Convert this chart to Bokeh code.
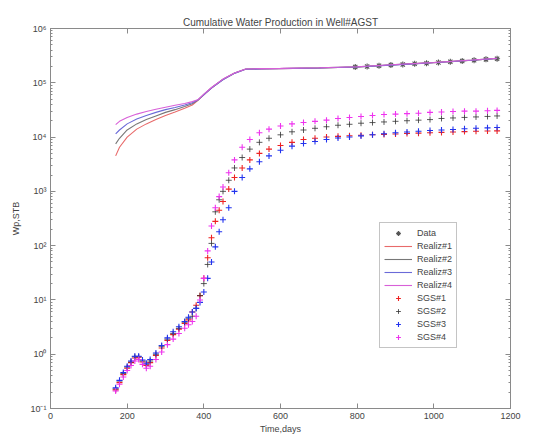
from bokeh.plotting import figure
from bokeh.models import (Range1d, LogAxis, LinearAxis, FixedTicker, Legend, LegendItem,
                          CustomJSTickFormatter)
from bokeh.embed import file_html
from bokeh.resources import INLINE

# ---------------- data ----------------
x_ticks = [0, 200, 400, 600, 800, 1000, 1200]
y_ticks = [0.1, 1, 10, 100, 1000, 1e4, 1e5, 1e6]

realiz_days = [170, 180, 200, 225, 250, 275, 300, 325, 350, 370, 384, 400, 420, 450,
               480, 509, 550, 600, 700, 800, 900, 1000, 1100, 1165]
realiz1 = [4.5e3, 6.5e3, 1.0e4, 1.4e4, 1.75e4, 2.1e4, 2.5e4, 2.9e4, 3.4e4, 3.9e4, 4.7e4,
           6.0e4, 8.0e4, 1.15e5, 1.5e5, 1.78e5, 1.8e5, 1.82e5, 1.87e5, 1.95e5, 2.15e5,
           2.35e5, 2.6e5, 2.8e5]
realiz2 = [7.5e3, 9.5e3, 1.35e4, 1.75e4, 2.1e4, 2.45e4, 2.85e4, 3.2e4, 3.65e4, 4.1e4, 4.75e4,
           6.1e4, 8.1e4, 1.16e5, 1.51e5, 1.79e5, 1.81e5, 1.83e5, 1.88e5, 1.96e5, 2.16e5,
           2.36e5, 2.62e5, 2.82e5]
realiz3 = [1.15e4, 1.35e4, 1.75e4, 2.15e4, 2.5e4, 2.85e4, 3.2e4, 3.5e4, 3.9e4, 4.3e4, 4.8e4,
           6.0e4, 8.0e4, 1.14e5, 1.49e5, 1.77e5, 1.8e5, 1.82e5, 1.87e5, 1.95e5, 2.14e5,
           2.34e5, 2.6e5, 2.8e5]
realiz4 = [1.7e4, 1.95e4, 2.3e4, 2.65e4, 2.95e4, 3.25e4, 3.55e4, 3.85e4, 4.15e4, 4.5e4, 4.85e4,
           6.2e4, 8.2e4, 1.17e5, 1.52e5, 1.8e5, 1.82e5, 1.84e5, 1.89e5, 1.97e5, 2.17e5,
           2.37e5, 2.63e5, 2.83e5]

data_days = [795, 826, 857, 888, 919, 950, 981, 1012, 1043, 1074, 1105, 1136, 1165]
data_wp = [1.95e5, 2.0e5, 2.06e5, 2.12e5, 2.18e5, 2.24e5, 2.3e5, 2.37e5, 2.45e5, 2.52e5,
           2.6e5, 2.7e5, 2.78e5]

sgs_days = [170, 180, 190, 200, 210, 220, 230, 240, 250, 260, 275, 290, 305, 320, 335, 350,
            360, 370, 380, 390, 400, 410, 420, 430, 440, 450, 465, 480, 500, 520, 545, 570,
            600, 630, 660, 690, 720, 750, 780, 810, 840, 870, 900, 930, 960, 990, 1020,
            1050, 1080, 1110, 1140, 1165]
sgs1 = [0.22, 0.3, 0.42, 0.55, 0.7, 0.85, 0.88, 0.72, 0.62, 0.7, 0.95, 1.3, 1.8, 2.3, 2.9,
        3.7, 4.3,
        6, 8, 12, 25, 60, 140, 280, 450, 650,
        1.1e3, 1.8e3, 2.7e3, 3.8e3, 5e3, 6e3, 7e3,
        8e3, 9e3, 9.5e3, 1e4, 1.03e4, 1.06e4, 1.08e4, 1.1e4, 1.12e4, 1.14e4, 1.16e4,
        1.18e4, 1.2e4, 1.22e4, 1.24e4, 1.26e4, 1.28e4, 1.29e4, 1.3e4]
sgs2 = [0.23, 0.32, 0.44, 0.58, 0.72, 0.9, 0.9, 0.75, 0.65, 0.75, 1.0, 1.4, 1.9, 2.4, 3.0,
        3.9, 4.6,
        5, 7, 12, 20, 45, 110, 420, 700, 1e3,
        1.6e3, 2.7e3, 4.2e3, 6e3, 8e3, 9.5e3, 1.1e4,
        1.25e4, 1.35e4, 1.45e4, 1.55e4, 1.65e4, 1.72e4, 1.8e4, 1.85e4, 1.9e4, 1.95e4, 2e4,
        2.05e4, 2.1e4, 2.2e4, 2.25e4, 2.3e4, 2.35e4, 2.4e4, 2.45e4]
sgs3 = [0.24, 0.33, 0.46, 0.6, 0.75, 0.92, 0.92, 0.78, 0.68, 0.8, 1.05, 1.45, 2.0, 2.6, 3.2,
        4.0, 4.8,
        6, 7, 9, 14, 25, 50, 95, 180, 300,
        500, 1e3, 1.8e3, 2.6e3, 3.5e3, 4.5e3, 5.7e3,
        6.8e3, 7.6e3, 8.3e3, 9e3, 9.6e3, 1e4, 1.05e4, 1.1e4, 1.15e4, 1.2e4, 1.24e4,
        1.28e4, 1.32e4, 1.35e4, 1.38e4, 1.42e4, 1.45e4, 1.48e4, 1.5e4]
sgs4 = [0.21, 0.28, 0.38, 0.5, 0.62, 0.75, 0.8, 0.65, 0.55, 0.6, 0.8, 1.1, 1.5, 1.9, 2.4,
        3.0, 3.5,
        4, 5, 10, 25, 80, 230, 500, 800, 1.2e3,
        2.2e3, 3.8e3, 6.5e3, 9e3, 1.2e4, 1.4e4, 1.6e4,
        1.75e4, 1.85e4, 1.95e4, 2.05e4, 2.2e4, 2.3e4, 2.4e4, 2.5e4, 2.6e4, 2.65e4, 2.7e4,
        2.75e4, 2.85e4, 2.9e4, 2.95e4, 3e4, 3e4, 3.05e4, 3.1e4]

# ---------------- styling ----------------
FONT = "Liberation Sans"
TXT = "#444444"
AX = "#8a8a8a"
RED, BLK, BLU, MAG = "#ee2222", "#333333", "#2233ee", "#ee33ee"
LRED, LBLK, LBLU, LMAG = "#e86a6a", "#777777", "#6a6ad8", "#d860d8"

p = figure(width=528, height=436, y_axis_type="log",
           x_range=Range1d(0, 1200), y_range=Range1d(0.1, 1e6),
           output_backend="svg", toolbar_location=None,
           min_border_left=50, min_border_right=18, min_border_top=28, min_border_bottom=26,
           title="Cumulative Water Production in Well#AGST")
p.title.text_font = FONT
p.title.text_font_size = "10px"
p.title.text_font_style = "normal"
p.title.text_color = TXT
p.title.align = "center"
p.title.standoff = 2
p.grid.visible = False
p.outline_line_color = AX
p.background_fill_color = "white"
p.border_fill_color = "white"

sup_code = """
const e = Math.round(Math.log10(tick));
const sup = {'-':'\u207b','0':'\u2070','1':'\u00b9','2':'\u00b2','3':'\u00b3','4':'\u2074',
             '5':'\u2075','6':'\u2076','7':'\u2077','8':'\u2078','9':'\u2079'};
return '10' + String(e).split('').map(c => sup[c]).join('');
"""
minor_y = []
for d in range(-1, 6):
    for k in range(2, 10):
        minor_y.append(k * 10.0 ** d)
y_ticker = FixedTicker(ticks=y_ticks, minor_ticks=minor_y)
x_ticker = FixedTicker(ticks=x_ticks)

def style_axis(ax, labels=True):
    ax.axis_line_color = AX
    ax.major_tick_line_color = AX
    ax.minor_tick_line_color = AX
    ax.major_tick_in = 5
    ax.major_tick_out = 0
    ax.minor_tick_in = 2
    ax.minor_tick_out = 0
    ax.major_label_text_font = FONT
    ax.major_label_text_color = TXT
    ax.major_label_text_font_size = "9px"
    ax.major_label_standoff = 3
    ax.axis_label_text_font = FONT
    ax.axis_label_text_font_size = "9px"
    ax.axis_label_text_font_style = "normal"
    ax.axis_label_text_color = TXT
    ax.axis_label_standoff = 3
    if not labels:
        ax.major_label_text_alpha = 0
        ax.major_label_standoff = 0

p.yaxis.ticker = y_ticker
p.yaxis.formatter = CustomJSTickFormatter(code=sup_code)
p.yaxis.axis_label = "Wp,STB"
p.xaxis.ticker = x_ticker
p.xaxis.axis_label = "Time,days"
style_axis(p.yaxis[0])
style_axis(p.xaxis[0])
p.yaxis[0].major_label_standoff = 4
p.yaxis[0].axis_label_standoff = 6
p.xaxis[0].major_label_standoff = 4
p.xaxis[0].axis_label_standoff = 2

ra = LogAxis(ticker=y_ticker, formatter=CustomJSTickFormatter(code="return ' ';"))
style_axis(ra, labels=False)
p.add_layout(ra, "right")
ta = LinearAxis(ticker=x_ticker, formatter=CustomJSTickFormatter(code="return ' ';"))
style_axis(ta, labels=False)
p.add_layout(ta, "above")

# ---------------- glyphs ----------------
r_data = p.scatter(data_days, data_wp, marker="asterisk", size=6, line_color="#555555",
                   line_width=1.1)
r_l1 = p.line(realiz_days, realiz1, line_color=LRED, line_width=1.1)
r_l2 = p.line(realiz_days, realiz2, line_color=LBLK, line_width=1.1)
r_l3 = p.line(realiz_days, realiz3, line_color=LBLU, line_width=1.1)
r_l4 = p.line(realiz_days, realiz4, line_color=LMAG, line_width=1.1)
r_s1 = p.scatter(sgs_days, sgs1, marker="cross", size=6, line_color=RED, line_width=1.1)
r_s2 = p.scatter(sgs_days, sgs2, marker="cross", size=6, line_color=BLK, line_width=1.0,
                 line_alpha=0.8)
r_s3 = p.scatter(sgs_days, sgs3, marker="cross", size=6, line_color=BLU, line_width=1.1)
r_s4 = p.scatter(sgs_days, sgs4, marker="cross", size=6, line_color=MAG, line_width=1.1)

legend = Legend(items=[
    LegendItem(label="Data", renderers=[r_data]),
    LegendItem(label="Realiz#1", renderers=[r_l1]),
    LegendItem(label="Realiz#2", renderers=[r_l2]),
    LegendItem(label="Realiz#3", renderers=[r_l3]),
    LegendItem(label="Realiz#4", renderers=[r_l4]),
    LegendItem(label="SGS#1", renderers=[r_s1]),
    LegendItem(label="SGS#2", renderers=[r_s2]),
    LegendItem(label="SGS#3", renderers=[r_s3]),
    LegendItem(label="SGS#4", renderers=[r_s4]),
], location=(329, 60))
legend.label_text_font = FONT
legend.label_text_font_size = "9px"
legend.label_text_color = TXT
legend.label_height = 12
legend.glyph_height = 12
legend.glyph_width = 28
legend.spacing = 1
legend.padding = 4
legend.margin = 0
legend.label_standoff = 5
legend.border_line_color = AX
legend.background_fill_alpha = 1
p.add_layout(legend, "center")

open("out.html", "w").write(file_html(p, INLINE))
